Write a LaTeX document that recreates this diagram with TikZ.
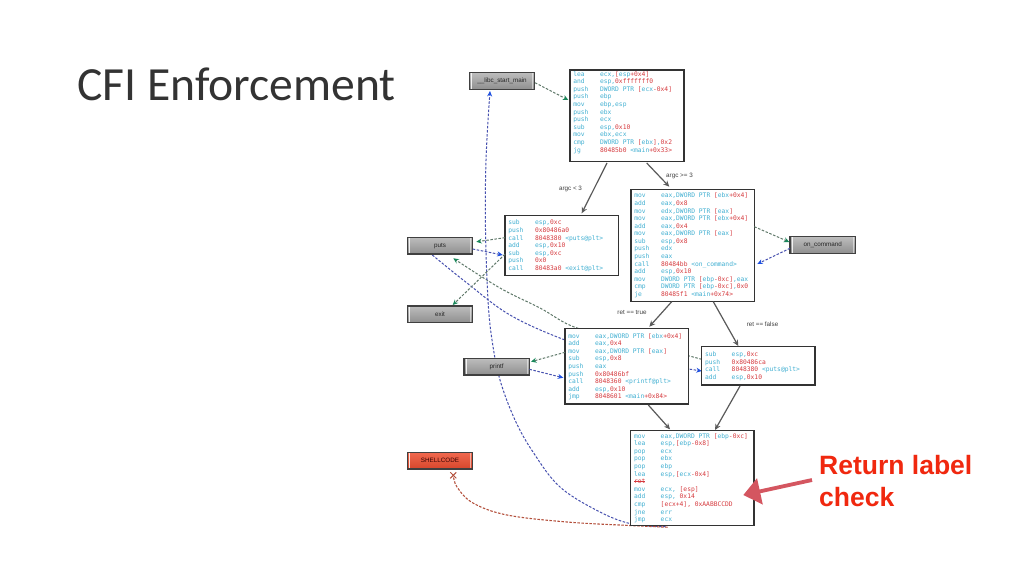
\documentclass[tikz,border=0pt]{standalone}
\usepackage{fontspec}
\usetikzlibrary{arrows.meta,backgrounds,shapes.misc}
\newfontfamily\titlefont{Carlito}
\newfontfamily\codefont{DejaVu Sans Mono}
\newfontfamily\lblfont{Liberation Sans}
\definecolor{cmn}{RGB}{66,176,210}
\definecolor{cred}{RGB}{214,58,62}
\definecolor{callln}{RGB}{95,120,105}
\definecolor{callhd}{RGB}{25,135,90}
\definecolor{retln}{RGB}{70,80,175}
\definecolor{rethd}{RGB}{30,80,225}
\definecolor{shellln}{RGB}{180,80,60}
\definecolor{bigred}{RGB}{212,86,96}
\definecolor{rltext}{RGB}{240,40,15}
\definecolor{flowgray}{RGB}{90,90,90}
\definecolor{shellfill}{RGB}{238,78,48}
\newcommand\rr[1]{\textcolor{cred}{#1}}
\newcommand\cl[2]{\leavevmode\hspace*{3.3pt}\rule{0pt}{5pt}\mbox{\makebox[26.7pt][l]{\textcolor{cmn}{#1}}\textcolor{cmn}{#2}}\par}
\newcommand\cblock[4]{\parbox[t][#2pt][t]{#1pt}{\codefont\fontsize{6.3}{7.58}\selectfont\parskip=0pt\lineskiplimit=-10pt\raggedright\vspace*{#3pt}#4}}
\begin{document}
\begin{tikzpicture}[x=1pt,y=-1pt,
  fn/.style={draw=black!75, line width=1.2pt, top color=black!26, bottom color=black!44,
    minimum width=65.4pt, minimum height=16.7pt, inner sep=0pt, outer sep=0pt,
    font=\lblfont\fontsize{6.3}{7}\selectfont, text=black!85, anchor=north west,
    path picture={\draw[white,opacity=.85,line width=.9pt] ([xshift=2.2pt]path picture bounding box.north west) -- ([xshift=2.2pt]path picture bounding box.south west);
      \draw[white,opacity=.5,line width=.7pt] ([xshift=-2.2pt]path picture bounding box.north east) -- ([xshift=-2.2pt]path picture bounding box.south east);}},
  code/.style={draw=black!80, line width=1.1pt, fill=white, inner sep=0pt, outer sep=0pt, anchor=north west},
  flow/.style={draw=flowgray, line width=1.2pt, -{Stealth[length=6pt,width=5.5pt]}},
  callc/.style={draw=callln, line width=1pt, dash pattern=on 2.5pt off 1.6pt, -{Stealth[length=5.5pt,width=5pt,color=callhd]}},
  retc/.style={draw=retln, line width=1pt, dash pattern=on 2.5pt off 1.6pt, -{Stealth[length=5.5pt,width=5pt,color=rethd]}},
  shellc/.style={draw=shellln, line width=1.1pt, dash pattern=on 2.5pt off 1.5pt},
  lbl/.style={font=\lblfont\fontsize{6.3}{7}\selectfont, text=black!75, inner sep=0pt},
  bigarr/.style={draw=bigred, line width=3.8pt, -{Triangle[length=17pt,width=26pt]}}
]
\path[use as bounding box] (0,0) rectangle (1024,576);

% title
\node[anchor=base west, font=\titlefont\fontsize{47.6}{52}\selectfont, text=black!80, inner sep=0pt] (title) at (77,100) {CFI Enforcement};

% function boxes
\node[fn] (libc) at (469.3,72.7) {\_\_libc\_start\_main};
\node[fn] (puts) at (407.3,237.3) {puts};
\node[fn] (exit) at (407.3,306) {exit};
\node[fn] (oncmd) at (790,236.7) {on\_command};
\node[fn] (printf) at (464,358.3) {printf};
\node[fn, top color=shellfill!85!white, bottom color=shellfill!90!black, text=black!80!red] (shell) at (407.3,452.3) {SHELLCODE};

% code blocks
\node[code] (b1) at (570,70) {\cblock{114}{91.7}{1.2}{%
\cl{lea}{ecx,\rr{[}esp\rr{+0x4]}}
\cl{and}{esp,\rr{0xfffffff0}}
\cl{push}{DWORD PTR \rr{[}ecx\rr{-0x4]}}
\cl{push}{ebp}
\cl{mov}{ebp,esp}
\cl{push}{ebx}
\cl{push}{ecx}
\cl{sub}{esp,\rr{0x10}}
\cl{mov}{ebx,ecx}
\cl{cmp}{DWORD PTR \rr{[}ebx\rr{]},\rr{0x2}}
\cl{jg}{\rr{80485b0} <main\rr{+0x33>}}}};

\node[code] (b2) at (505,215.7) {\cblock{113.3}{60}{4.2}{%
\cl{sub}{esp,\rr{0xc}}
\cl{push}{\rr{0x80486a0}}
\cl{call}{\rr{8048380} <puts@plt>}
\cl{add}{esp,\rr{0x10}}
\cl{sub}{esp,\rr{0xc}}
\cl{push}{\rr{0x0}}
\cl{call}{\rr{80483a0} <exit@plt>}}};

\node[code] (b3) at (631,189.3) {\cblock{123.3}{112.4}{3.6}{%
\cl{mov}{eax,DWORD PTR \rr{[}ebx\rr{+0x4]}}
\cl{add}{eax,\rr{0x8}}
\cl{mov}{edx,DWORD PTR \rr{[}eax\rr{]}}
\cl{mov}{eax,DWORD PTR \rr{[}ebx\rr{+0x4]}}
\cl{add}{eax,\rr{0x4}}
\cl{mov}{eax,DWORD PTR \rr{[}eax\rr{]}}
\cl{sub}{esp,\rr{0x8}}
\cl{push}{edx}
\cl{push}{eax}
\cl{call}{\rr{80484bb} <on\_command>}
\cl{add}{esp,\rr{0x10}}
\cl{mov}{DWORD PTR \rr{[}ebp\rr{-0xc]},eax}
\cl{cmp}{DWORD PTR \rr{[}ebp\rr{-0xc]},\rr{0x0}}
\cl{je}{\rr{80485f1} <main\rr{+0x74>}}}};

\node[code] (b4) at (565,328.3) {\cblock{123.3}{75.7}{4.9}{%
\cl{mov}{eax,DWORD PTR \rr{[}ebx\rr{+0x4]}}
\cl{add}{eax,\rr{0x4}}
\cl{mov}{eax,DWORD PTR \rr{[}eax\rr{]}}
\cl{sub}{esp,\rr{0x8}}
\cl{push}{eax}
\cl{push}{\rr{0x80486bf}}
\cl{call}{\rr{8048360} <printf@plt>}
\cl{add}{esp,\rr{0x10}}
\cl{jmp}{\rr{8048601} <main\rr{+0x84>}}}};

\node[code] (b5) at (701.7,346.7) {\cblock{113.3}{38.3}{4.8}{%
\cl{sub}{esp,\rr{0xc}}
\cl{push}{\rr{0x80486ca}}
\cl{call}{\rr{8048380} <puts@plt>}
\cl{add}{esp,\rr{0x10}}}};

\node[code] (b6) at (630.7,430.7) {\cblock{123.3}{94.6}{2.5}{%
\cl{mov}{eax,DWORD PTR \rr{[}ebp\rr{-0xc]}}
\cl{lea}{esp,\rr{[}ebp\rr{-0x8]}}
\cl{pop}{ecx}
\cl{pop}{ebx}
\cl{pop}{ebp}
\cl{lea}{esp,\rr{[}ecx\rr{-0x4]}}
\cl{\rr{\rlap{\rule[1.8pt]{11.4pt}{0.5pt}}ret}}{}
\cl{mov}{ecx, \rr{[esp]}}
\cl{add}{esp, \rr{0x14}}
\cl{cmp}{\rr{[ecx+4], 0xAABBCCDD}}
\cl{jne}{err}
\cl{jmp}{ecx}}};

% edge labels
\node[lbl] (l1) at (570.5,188.7) {argc < 3};
\node[lbl] (l2) at (679.5,175.5) {argc >= 3};
\node[lbl] (l3) at (632,312.5) {ret == true};
\node[lbl] (l4) at (762.5,324.5) {ret == false};

% return label check
\node[anchor=west, align=left, font=\lblfont\bfseries\fontsize{26.5}{32}\selectfont, text=rltext, inner sep=0pt] (rl) at (819,481) {Return label\\check};

% flow edges
\draw[flow] ([shift={(37,93)}]b1.north west) -- ([shift={(76.7,-2.4)}]b2.north west);
\draw[flow] ([shift={(76.7,93)}]b1.north west) -- ([shift={(38.3,-2.6)}]b3.north west);
\draw[flow] ([shift={(40.7,112.4)}]b3.north west) -- ([shift={(84.3,-1.6)}]b4.north west);
\draw[flow] ([shift={(82.3,112.4)}]b3.north west) -- ([shift={(36.6,-0.7)}]b5.north west);
\draw[flow] ([shift={(83.3,76.7)}]b4.north west) -- ([shift={(39.3,-1.4)}]b6.north west);
\draw[flow] ([shift={(38.3,39.3)}]b5.north west) -- ([shift={(84.3,-0.7)}]b6.north west);

% call / return edges
\draw[callc] ([shift={(65.7,10)}]libc.north west) -- ([shift={(-1.7,30)}]b1.north west);
\draw[callc] ([shift={(0,22)}]b2.north west) -- ([shift={(69,4.5)}]puts.north west);
\draw[retc] ([shift={(65.4,11.7)}]puts.north west) -- ([shift={(-2.3,39.3)}]b2.north west);
\draw[callc] ([shift={(0,38.5)}]b2.north west) -- ([shift={(45.4,-1)}]exit.north west);
\draw[callc] ([shift={(123.3,37.4)}]b3.north west) -- ([shift={(-0.7,5.3)}]oncmd.north west);
\draw[retc] ([shift={(0,11.6)}]oncmd.north west) -- ([shift={(126.3,74.7)}]b3.north west);
\draw[callc] ([shift={(0,24)}]b4.north west) -- ([shift={(67,3.4)}]printf.north west);
\draw[retc] ([shift={(65.4,11)}]printf.north west) -- ([shift={(-1.7,49.4)}]b4.north west);

% curve end points
\coordinate (g0) at ([shift={(0,12.6)}]b5.north west);
\coordinate (g1) at ([shift={(46,21)}]puts.north west);
\coordinate (u0) at ([shift={(25,17.7)}]puts.north west);
\coordinate (u1) at ([shift={(0,24.3)}]b5.north west);
\coordinate (r0) at ([shift={(35,96)}]b6.north west);
\coordinate (r1) at ([shift={(20.7,18.3)}]libc.north west);
\coordinate (s0) at ([shift={(37,96.5)}]b6.north west);
\node[cross out, draw=shellln, line width=1pt, minimum size=5pt, inner sep=0pt] (xm) at ([shift={(46,23)}]shell.north west) {};

\begin{pgfonlayer}{background}
\fill[white] (0,0) rectangle (1024,576);
\draw[callc] plot[smooth, tension=0.6] coordinates {(g0) (640,343) (577,328) (540,308) (500,288) (g1)};
\draw[retc] plot[smooth, tension=0.6] coordinates {(u0) (467,283) (510,315) (565,340) (620,357) (u1)};
\draw[retc] plot[smooth, tension=0.6] coordinates {(r0) (632,524) (600,512) (560,487) (533,452) (515,420) (500,380) (492,340) (488,300) (485.5,230) (486,160) (r1)};
\draw[shellc] plot[smooth, tension=0.6] coordinates {(s0) (630,525.5) (567,522) (507,515) (473,503) (457,487) (xm.center)};
\end{pgfonlayer}

% big arrow
\draw[bigarr] ([shift={(-7,-1)}]rl.west) -- ([shift={(112.6,64.3)}]b6.north west);
\end{tikzpicture}
\end{document}
